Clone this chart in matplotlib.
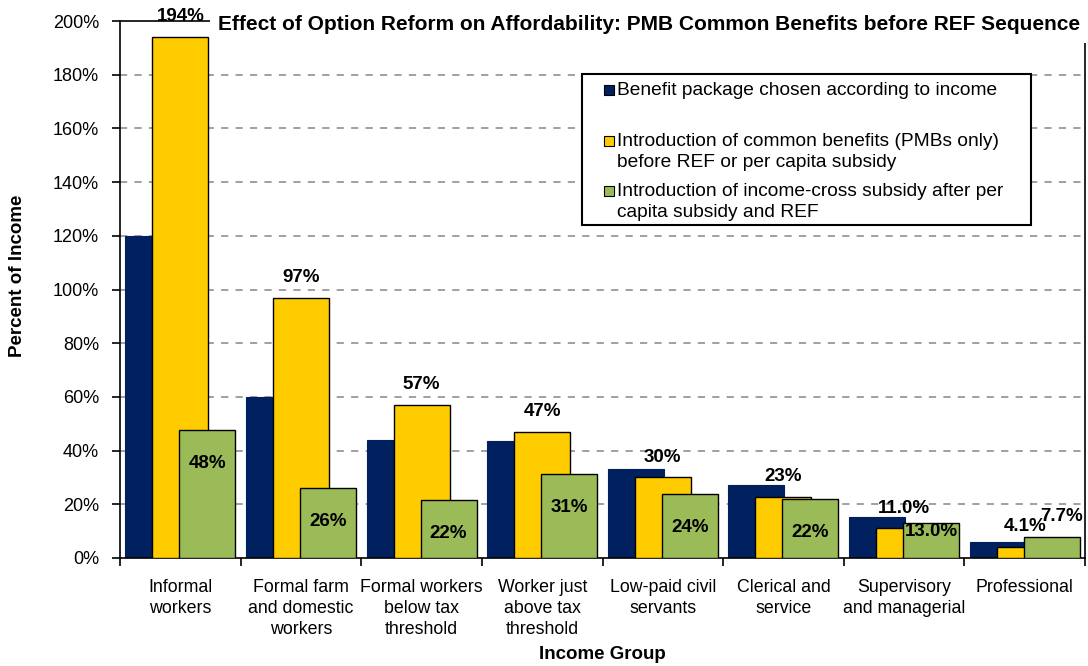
import matplotlib
matplotlib.use("Agg")
import matplotlib.pyplot as plt
from matplotlib.patches import Rectangle
import numpy as np

plt.rcParams['font.family'] = ['Liberation Sans', 'DejaVu Sans']

# income groups and the three affordability scenarios (percent of income)
groups = ["Informal\nworkers", "Formal farm\nand domestic\nworkers",
          "Formal workers\nbelow tax\nthreshold", "Worker just\nabove tax\nthreshold",
          "Low-paid civil\nservants", "Clerical and\nservice",
          "Supervisory\nand managerial", "Professional"]
by_income = [120, 60, 44, 43.5, 33, 27.2, 15.3, 5.9]
common_pmb = [194, 97, 57, 47, 30, 22.6, 11.0, 4.1]
cross_subsidy = [47.6, 26, 21.6, 31.3, 23.7, 22, 13.0, 7.7]
decimals = [0, 0, 0, 0, 0, 0, 1, 1]

series_names = ["Benefit package chosen according to income",
                "Introduction of common benefits (PMBs only)\nbefore REF or per capita subsidy",
                "Introduction of income-cross subsidy after per\ncapita subsidy and REF"]
colors = ["#002060", "#FFCC00", "#9BBB59"]

fig = plt.figure(figsize=(10.88, 6.66), dpi=100)
ax = fig.add_axes([120 / 1088, 1 - 558 / 666, 965 / 1088, 537 / 666])

x = np.arange(len(groups))
w = 0.464
step = 0.224

ax.bar(x - step, by_income, w, color=colors[0], edgecolor=colors[0], linewidth=0.8, zorder=2)
ax.bar(x, common_pmb, w, color=colors[1], edgecolor="black", linewidth=1.0, zorder=3)
ax.bar(x + step, cross_subsidy, w, color=colors[2], edgecolor="black", linewidth=1.0, zorder=4)

# value labels: yellow above the bar, green inside (last two groups placed by hand)
for i in range(len(groups)):
    fmt = "{:.%df}%%" % decimals[i]
    ax.text(x[i], common_pmb[i] + 7.6, fmt.format(common_pmb[i]), ha="center", va="center",
            fontsize=13.5, fontweight="bold", zorder=6)
    if i < 6:
        gx, gy = x[i] + step, cross_subsidy[i] - 12.5
    elif i == 6:
        gx, gy = x[i] + step, cross_subsidy[i] - 3.3
    else:
        gx, gy = x[i] + step + 0.08, cross_subsidy[i] + 7.6
    ax.text(gx, gy, fmt.format(cross_subsidy[i]), ha="center", va="center",
            fontsize=13.5, fontweight="bold", zorder=6)

ax.set_xlim(-0.5, len(groups) - 0.5)
ax.set_ylim(0, 200)
ax.set_yticks(np.arange(0, 201, 20))
ax.set_yticklabels(["%d%%" % v for v in range(0, 201, 20)], fontsize=13)
ax.set_xticks(x)
ax.set_xticklabels(groups, fontsize=12.8, linespacing=1.3)
ax.set_xticks(np.arange(-0.5, len(groups), 1), minor=True)
ax.tick_params(axis="x", which="major", length=0, pad=15)
ax.tick_params(axis="x", which="minor", length=6, width=1.2, direction="out")
ax.tick_params(axis="y", length=6, width=1.2, direction="out", pad=9)

for v in range(20, 200, 20):
    ax.axhline(v, color="#999999", linewidth=1.3, dashes=(4, 4), zorder=0)

for s in ax.spines.values():
    s.set_color("black")
    s.set_linewidth(1.2)

ax.set_ylabel("Percent of Income", fontsize=13.5, fontweight="bold")
ax.yaxis.set_label_coords(-0.097, 0.525)
ax.set_xlabel("Income Group", fontsize=13.5, fontweight="bold", labelpad=6)


# legend box, drawn by hand so each marker sits on the first line of its entry
def to_ax(px, py):
    return (px - 120) / 965, 1 - (py - 21) / 537


bx0, by0 = to_ax(582, 225)
bx1, by1 = to_ax(1031, 74)
ax.add_patch(Rectangle((bx0, by0), bx1 - bx0, by1 - by0, transform=ax.transAxes,
                       facecolor="white", edgecolor="black", linewidth=1.5, zorder=7))
for name, col, ty in zip(series_names, colors, [90, 141, 191]):
    mx, my = to_ax(604, ty + 5)
    mw = 10 / 965
    mh = 10 / 537
    ax.add_patch(Rectangle((mx, my), mw, mh, transform=ax.transAxes, facecolor=col,
                           edgecolor="black", linewidth=0.8, zorder=8))
    tx, tyy = to_ax(617, ty - 8)
    ax.text(tx, tyy, name, transform=ax.transAxes, ha="left", va="top",
            fontsize=13.8, linespacing=1.3, zorder=8)

fig.text(0.5965, 1 - 25 / 666,
         "Effect of Option Reform on Affordability: PMB Common Benefits before REF Sequence",
         ha="center", va="center", fontsize=15, fontweight="bold",
         bbox=dict(facecolor="white", edgecolor="none", pad=6), zorder=10)

fig.savefig("out.png", dpi=100)
